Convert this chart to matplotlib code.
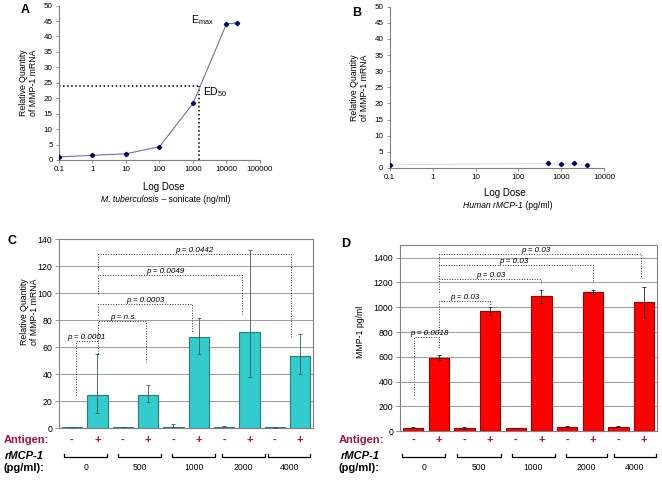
import matplotlib.pyplot as plt
from matplotlib.transforms import blended_transform_factory

plt.rcParams['font.family'] = ['Liberation Sans', 'DejaVu Sans']
plt.rcParams['mathtext.fontset'] = 'custom'
plt.rcParams['mathtext.rm'] = 'Liberation Sans'

# panel A: dose response to M. tuberculosis sonicate
A_DOSE = [0.1, 1, 10, 100, 1000, 10000, 20000]
A_MMP1 = [1.0, 1.5, 2.0, 4.3, 18.3, 44.1, 44.3]
A_ED50_DOSE = 1500
A_ED50_VALUE = 24

# panel B: dose response to rMCP-1
B_DOSE = [0.1, 500, 1000, 2000, 4000]
B_MMP1 = [1.0, 1.4, 1.1, 1.4, 0.8]

GROUPS = ['0', '500', '1000', '2000', '4000']
ANTIGEN = ['-', '+'] * 5

# panel C: relative MMP-1 mRNA
C_VALUES = [1.0, 24.5, 1.0, 25.0, 1.2, 67.5, 1.1, 71.5, 0.7, 53.5]
C_ERR_LOW = [0, 13.5, 0, 5.5, 0.5, 12.5, 0.3, 33.5, 0.3, 13.5]
C_ERR_HIGH = [0, 30.5, 0, 7.0, 2.0, 14.5, 0.3, 60.5, 0.6, 16.5]
C_PVALUES = ['p = 0.0001', 'p = n.s.', 'p = 0.0003', 'p = 0.0049', 'p = 0.0442']

# panel D: MMP-1 secretion
D_VALUES = [28, 593, 28, 973, 27, 1089, 37, 1123, 35, 1043]
D_ERR = [3, 22, 8, 32, 3, 52, 4, 17, 4, 122]
D_PVALUES = ['p = 0.0018', 'p = 0.03', 'p = 0.03', 'p = 0.03', 'p = 0.03']

# bracket geometry: (x_left, left_leg_from, y_top, x_right, right_leg_to, text_x)
C_BRACKETS = [(0.15, 25, 64.6, 1.04, 55, 0.55),
              (1.04, 65, 79.4, 2.92, 48.8, 2.02),
              (1.04, 83.8, 92.4, 4.72, 71.5, 2.88),
              (1.04, 99.8, 113.4, 6.69, 83.8, 3.67),
              (1.04, 117, 129.4, 8.63, 67.8, 4.81)]
D_BRACKETS = [(0.02, 292, 758, 1.02, 669, 0.63),
              (1.02, 817, 1050, 2.98, 1010, 2.0),
              (1.02, 1121, 1228, 5.0, 1193, 3.02),
              (1.02, 1228, 1341, 6.99, 1207, 3.91),
              (1.02, 1341, 1430, 8.86, 1235, 4.77)]
C_GROUP_SPANS = [(-0.3, 1.39), (1.82, 3.5), (3.95, 5.64), (5.93, 7.6), (7.74, 9.4)]
D_GROUP_SPANS = [(-0.43, 1.26), (1.71, 3.43), (3.86, 5.52), (5.95, 7.57), (7.83, 9.46)]

GRAY = '#808080'
RED_TEXT = '#A3123A'

fig = plt.figure(figsize=(6.62, 4.8), dpi=100)


def dose_axes(rect, xmax):
    ax = fig.add_axes(rect)
    ax.set_xscale('log')
    ax.set_xlim(0.1, xmax)
    ax.set_ylim(0, 50)
    ax.set_yticks(range(0, 51, 5))
    for s in ('top', 'right'):
        ax.spines[s].set_visible(False)
    for s in ('left', 'bottom'):
        ax.spines[s].set_color(GRAY)
        ax.spines[s].set_linewidth(0.8)
    ax.tick_params(labelsize=5.8, length=2.5, width=0.6, color=GRAY, pad=2)
    ax.tick_params(axis='x', which='minor', length=0)
    ax.xaxis.set_major_formatter(plt.FuncFormatter(lambda v, p: f'{v:g}'))
    ax.set_ylabel('Relative Quantity\nof MMP-1 mRNA', fontsize=6.3, labelpad=4,
                  linespacing=1.1)
    return ax


def subtitle(x_left, y_px, italic_part, plain_part):
    # italic name followed by plain units, placed right after it
    t1 = fig.text(x_left / 662, 1 - y_px / 480, italic_part, fontsize=6.2,
                  style='italic', ha='left', va='center')
    fig.add_artist(plt.Annotation(plain_part, xy=(1, 0.5), xycoords=t1,
                                  fontsize=6.2, ha='left', va='center',
                                  annotation_clip=False))


# ---- A
axA = dose_axes([0.0891, 0.6667, 0.3036, 0.3217], 100000)
axA.plot(A_DOSE, A_MMP1, color='#6F6FB0', lw=0.8, marker='D', ms=2.2,
         mfc='#000066', mec='#000066', zorder=3)
axA.plot([0.1, A_ED50_DOSE], [A_ED50_VALUE, A_ED50_VALUE], color='black',
         ls=':', lw=1.1)
axA.plot([A_ED50_DOSE, A_ED50_DOSE], [0, A_ED50_VALUE], color='black',
         ls=':', lw=1.1)
axA.text(1900, 45.3, r'E$_{\mathrm{max}}$', fontsize=7.5, ha='center', va='center')
axA.text(2000, 22.0, r'ED$_{\mathrm{50}}$', fontsize=7.5, ha='left', va='center')
fig.text(0.2477, 1 - 187 / 480, 'Log Dose', fontsize=7, ha='center', va='center')
subtitle(101, 199.5, 'M. tuberculosis', ' – sonicate (ng/ml)')
fig.text(0.038, 1 - 10 / 480, 'A', fontsize=9, weight='bold', ha='center', va='center')

# ---- B
axB = dose_axes([0.5887, 0.65, 0.3242, 0.336], 10000)
axB.plot(B_DOSE, B_MMP1, color='#DCDCE8', lw=0.8, marker='D', ms=2.2,
         mfc='#000066', mec='#000066', zorder=3)
fig.text(0.763, 1 - 193 / 480, 'Log Dose', fontsize=7, ha='center', va='center')
subtitle(463, 206, 'Human rMCP-1', ' (pg/ml)')
fig.text(0.5385, 1 - 13 / 480, 'B', fontsize=9, weight='bold', ha='center', va='center')


def bar_axes(rect, values, err, face, edge, ecolor, ylim, ystep, brackets,
             pvalues, spans, xtext):
    ax = fig.add_axes(rect)
    xs = list(range(len(values)))
    ax.bar(xs, values, width=0.8, color=face, edgecolor=edge, linewidth=0.8,
           yerr=err, ecolor=ecolor, error_kw=dict(elinewidth=0.6, capsize=1.5,
                                                  capthick=0.6), zorder=3)
    ax.set_xlim(-0.5, len(values) - 0.5)
    ax.set_ylim(0, ylim)
    ax.set_yticks(range(0, ylim, ystep) if ylim % ystep else range(0, ylim + 1, ystep))
    ax.set_xticks([])
    ax.grid(axis='y', color='#9a9a9a', lw=0.7, zorder=0)
    for s in ax.spines.values():
        s.set_color(GRAY)
        s.set_linewidth(0.8)
    ax.tick_params(axis='y', labelsize=6.3, length=3, width=0.6, color=GRAY, pad=2)
    for (xl, yl0, yt, xr, yr1, tx), label in zip(brackets, pvalues):
        ax.plot([xl, xl, xr, xr], [yl0, yt, yt, yr1], color='#333333', ls=':',
                lw=0.7, zorder=4)
        ax.text(tx, yt, label, fontsize=5.8, style='italic', ha='center',
                va='bottom', zorder=5)
    tr = blended_transform_factory(ax.transData, fig.transFigure)
    for x, sign in zip(xs, ANTIGEN):
        ax.text(x, 1 - 440 / 480, sign, transform=tr, fontsize=8, color=RED_TEXT,
                ha='center', va='center', weight='bold')
    for (a, b), g in zip(spans, GROUPS):
        ax.plot([a, a, b, b], [1 - 453.5 / 480, 1 - 457 / 480, 1 - 457 / 480,
                               1 - 453.5 / 480], transform=tr, color='black',
                lw=0.9, clip_on=False)
        ax.text((a + b) / 2, 1 - 467.5 / 480, g, transform=tr, fontsize=6.2,
                ha='center', va='center')
    fig.text(xtext, 1 - 440 / 480, 'Antigen:', fontsize=8, weight='bold',
             color=RED_TEXT, ha='left', va='center')
    fig.text(xtext + 0.003, 1 - 456 / 480, 'rMCP-1', fontsize=8, weight='bold',
             style='italic', ha='left', va='center')
    fig.text(xtext, 1 - 468 / 480, '(pg/ml):', fontsize=8, weight='bold',
             ha='left', va='center')
    return ax


# ---- C
axC = bar_axes([0.0896, 0.1077, 0.3832, 0.3938], C_VALUES, [C_ERR_LOW, C_ERR_HIGH],
               '#33CCCC', '#267F7F', '#3a5a5a', 140, 20, C_BRACKETS, C_PVALUES,
               C_GROUP_SPANS, 0.005)
fig.text(0.045, 1 - 312 / 480, 'Relative Quantity\nof MMP-1 mRNA', fontsize=6.3,
         rotation=90, ha='center', va='center', linespacing=1.1)
fig.text(0.018, 1 - 241 / 480, 'C', fontsize=9, weight='bold', ha='center', va='center')

# ---- D
axD = bar_axes([0.6047, 0.1015, 0.3877, 0.3875], D_VALUES, D_ERR,
               '#FF0000', '#A00000', '#222222', 1500, 200, D_BRACKETS, D_PVALUES,
               D_GROUP_SPANS, 0.512)
fig.text(0.544, 1 - 332 / 480, 'MMP-1 pg/ml', fontsize=6.3, rotation=90,
         ha='center', va='center')
fig.text(0.522, 1 - 244 / 480, 'D', fontsize=9, weight='bold', ha='center', va='center')

fig.savefig('out.png', dpi=100)
